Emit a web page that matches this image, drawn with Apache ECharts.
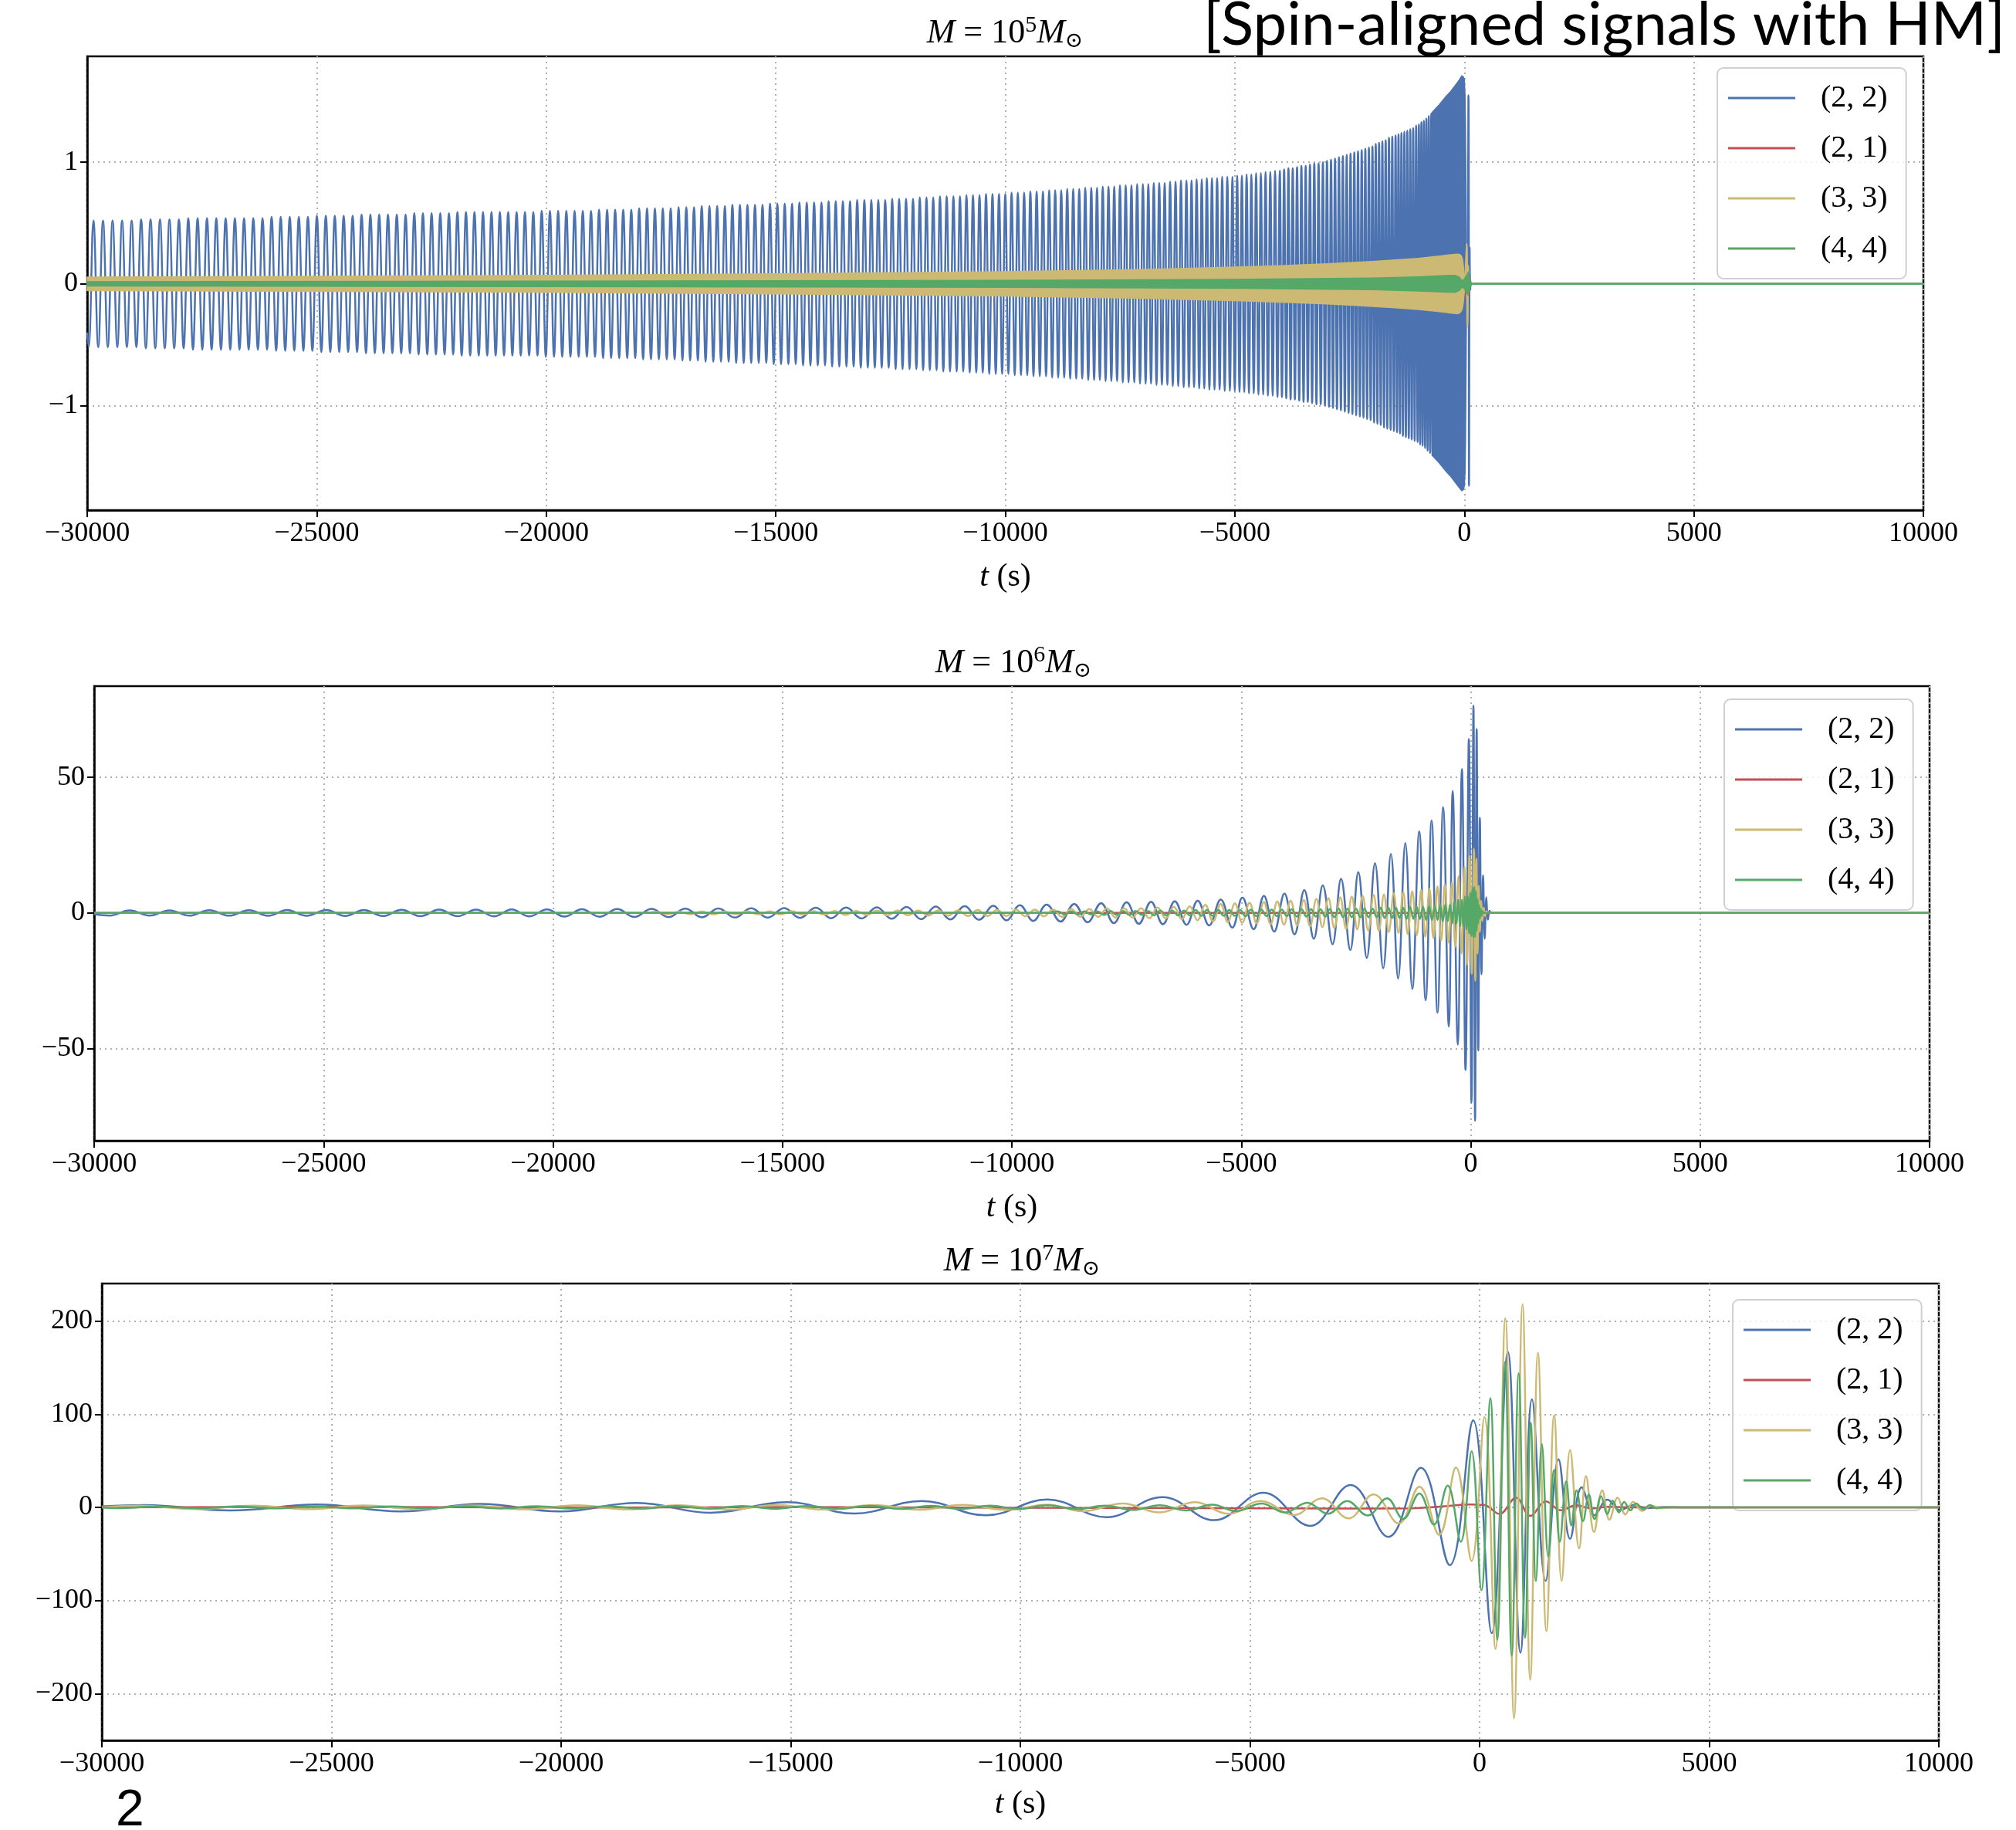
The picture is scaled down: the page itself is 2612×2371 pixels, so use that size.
<!DOCTYPE html>
<html>
<head>
<meta charset="utf-8">
<script src="https://cdn.jsdelivr.net/npm/echarts@6/dist/echarts.min.js"></script>
<style>
  html, body { margin: 0; padding: 0; background: #fff; }
  #chart { width: 2612px; height: 2371px; }
</style>
</head>
<body>
<div id="chart"></div>
<script>
// modes shown in every panel
const modeNames = ['(2, 2)', '(2, 1)', '(3, 3)', '(4, 4)'];
const modeColors = ['#4c72b0', '#c44e52', '#ccb974', '#55a868'];
const xTicks = [-30000, -25000, -20000, -15000, -10000, -5000, 0, 5000, 10000];
const yTicks1 = [-1, 0, 1];
const yTicks2 = [-50, 0, 50];
const yTicks3 = [-200, -100, 0, 100, 200];

// ---- M = 1e5: (2,2) extrema, [t, h]
const p1Blue = [[-30000,-0.40],[-29968,-0.52],[-29864,0.52],[-29760,-0.52],[-29656,0.52],[-29552,-0.52],[-29448,0.52],[-29344,-0.52],[-29240,0.52],[-29136,-0.52],[-29032,0.52],[-28929,-0.52],
[-28826,0.53],[-28723,-0.53],[-28620,0.53],[-28517,-0.53],[-28414,0.53],[-28311,-0.53],[-28208,0.53],[-28105,-0.53],[-28002,0.53],[-27900,-0.53],
[-27798,0.54],[-27696,-0.54],[-27595,0.54],[-27493,-0.54],[-27391,0.54],[-27290,-0.54],[-27188,0.54],[-27086,-0.54],
[-26984,0.54],[-26884,-0.54],[-26783,0.54],[-26683,-0.54],[-26583,0.54],[-26483,-0.54],[-26382,0.54],[-26282,-0.54],[-26181,0.54],[-26082,-0.54],
[-25983,0.55],[-25884,-0.55],[-25785,0.55],[-25687,-0.55],[-25588,0.55],[-25489,-0.55],[-25390,0.55],[-25291,-0.55],[-25192,0.55],[-25095,-0.55],
[-24997,0.56],[-24900,-0.56],[-24802,0.56],[-24705,-0.56],[-24607,0.56],[-24510,-0.56],[-24413,0.56],[-24316,-0.56],[-24218,0.56],[-24121,-0.56],
[-24023,0.57],[-23927,-0.57],[-23831,0.57],[-23735,-0.57],[-23639,0.57],[-23544,-0.57],[-23448,0.57],[-23352,-0.57],[-23256,0.57],[-23160,-0.57],[-23064,0.57],[-22970,-0.57],
[-22875,0.58],[-22781,-0.58],[-22687,0.58],[-22592,-0.58],[-22498,0.58],[-22404,-0.58],[-22309,0.58],[-22215,-0.58],[-22120,0.58],[-22028,-0.58],
[-21935,0.59],[-21842,-0.59],[-21749,0.59],[-21657,-0.59],[-21564,0.59],[-21471,-0.59],[-21378,0.59],[-21286,-0.59],[-21193,0.59],[-21102,-0.59],
[-21011,0.59],[-20920,-0.59],[-20829,0.59],[-20738,-0.59],[-20646,0.59],[-20555,-0.59],[-20464,0.59],[-20373,-0.59],[-20282,0.59],[-20191,-0.59],[-20099,0.6],[-20010,-0.6],
[-19920,0.6],[-19831,-0.6],[-19741,0.6],[-19652,-0.6],[-19562,0.6],[-19473,-0.6],[-19383,0.6],[-19294,-0.6],[-19204,0.6],[-19115,-0.6],[-19025,0.6],[-18938,-0.6],
[-18850,0.61],[-18762,-0.61],[-18674,0.61],[-18587,-0.61],[-18499,0.61],[-18411,-0.61],[-18323,0.61],[-18236,-0.61],[-18148,0.61],[-18062,-0.61],
[-17976,0.62],[-17890,-0.62],[-17804,0.62],[-17719,-0.62],[-17633,0.62],[-17547,-0.62],[-17461,0.62],[-17375,-0.62],[-17289,0.62],[-17203,-0.62],[-17117,0.63],[-17033,-0.63],
[-16949,0.63],[-16865,-0.63],[-16781,0.63],[-16697,-0.63],[-16613,0.64],[-16529,-0.64],[-16445,0.64],[-16361,-0.64],[-16277,0.64],[-16193,-0.64],[-16109,0.64],[-16027,-0.64],
[-15945,0.65],[-15863,-0.65],[-15781,0.65],[-15699,-0.65],[-15617,0.65],[-15535,-0.65],[-15453,0.65],[-15371,-0.65],[-15289,0.65],[-15207,-0.65],[-15125,0.66],[-15045,-0.66],
[-14965,0.66],[-14885,-0.66],[-14805,0.66],[-14725,-0.66],[-14645,0.66],[-14565,-0.66],[-14485,0.67],[-14405,-0.67],[-14325,0.67],[-14245,-0.67],[-14165,0.67],[-14085,-0.67],
[-14005,0.67],[-13927,-0.67],[-13849,0.68],[-13772,-0.68],[-13694,0.68],[-13616,-0.68],[-13538,0.68],[-13460,-0.68],[-13382,0.68],[-13304,-0.68],[-13226,0.69],[-13148,-0.69],[-13070,0.69],[-12995,-0.69],
[-12919,0.69],[-12843,-0.69],[-12767,0.69],[-12692,-0.69],[-12616,0.69],[-12540,-0.69],[-12464,0.7],[-12389,-0.7],[-12313,0.7],[-12238,-0.7],[-12162,0.7],[-12086,-0.7],
[-12010,0.7],[-11937,-0.7],[-11863,0.71],[-11790,-0.71],[-11717,0.71],[-11644,-0.71],[-11570,0.71],[-11497,-0.71],[-11423,0.72],[-11350,-0.72],[-11277,0.72],[-11204,-0.72],[-11130,0.72],[-11059,-0.72],
[-10988,0.72],[-10917,-0.72],[-10846,0.73],[-10775,-0.73],[-10704,0.73],[-10633,-0.73],[-10562,0.73],[-10491,-0.73],[-10420,0.74],[-10350,-0.74],[-10279,0.74],[-10208,-0.74],[-10137,0.74],[-10069,-0.74],
[-10000,0.74],[-9932,-0.74],[-9863,0.75],[-9795,-0.75],[-9727,0.75],[-9659,-0.75],[-9590,0.75],[-9522,-0.75],[-9454,0.76],[-9386,-0.76],[-9317,0.76],[-9249,-0.76],[-9180,0.76],[-9112,-0.76],[-9044,0.77],[-8979,-0.77],
[-8913,0.77],[-8848,-0.77],[-8782,0.77],[-8717,-0.77],[-8651,0.78],[-8586,-0.78],[-8520,0.78],[-8455,-0.78],[-8389,0.78],[-8324,-0.78],[-8258,0.79],[-8193,-0.79],[-8127,0.79],[-8065,-0.79],
[-8002,0.79],[-7940,-0.79],[-7877,0.8],[-7815,-0.8],[-7752,0.8],[-7690,-0.8],[-7627,0.8],[-7565,-0.8],[-7502,0.81],[-7440,-0.81],[-7377,0.81],[-7315,-0.81],[-7252,0.81],[-7190,-0.81],[-7127,0.82],[-7065,-0.82],[-7002,0.82],[-6943,-0.82],
[-6884,0.82],[-6825,-0.82],[-6765,0.83],[-6706,-0.83],[-6647,0.83],[-6588,-0.83],[-6528,0.83],[-6469,-0.83],[-6410,0.84],[-6351,-0.84],[-6291,0.84],[-6232,-0.84],[-6173,0.85],[-6114,-0.85],[-6054,0.85],[-5999,-0.85],
[-5943,0.85],[-5888,-0.85],[-5832,0.86],[-5776,-0.86],[-5720,0.86],[-5665,-0.86],[-5609,0.87],[-5554,-0.87],[-5498,0.87],[-5442,-0.87],[-5386,0.87],[-5331,-0.87],[-5275,0.88],[-5220,-0.88],[-5164,0.88],[-5108,-0.88],[-5052,0.88],[-5001,-0.88],
[-4949,0.89],[-4898,-0.89],[-4846,0.89],[-4795,-0.89],[-4743,0.9],[-4692,-0.9],[-4640,0.9],[-4588,-0.9],[-4536,0.91],[-4485,-0.91],[-4433,0.91],[-4382,-0.91],[-4330,0.92],[-4279,-0.92],[-4227,0.92],[-4175,-0.92],[-4123,0.93],[-4072,-0.93],[-4020,0.93],[-3973,-0.93],
[-3926,0.94],[-3879,-0.94],[-3832,0.95],[-3785,-0.95],[-3738,0.95],[-3691,-0.95],[-3644,0.96],[-3597,-0.96],[-3550,0.97],[-3503,-0.97],[-3456,0.97],[-3410,-0.97],[-3363,0.98],[-3316,-0.98],[-3269,0.99],[-3222,-0.99],[-3175,0.99],[-3128,-0.99],[-3081,1.0],[-3037,-1.0],
[-2992,1.01],[-2948,-1.01],[-2904,1.02],[-2861,-1.02],[-2817,1.03],[-2774,-1.03],[-2731,1.04],[-2689,-1.04],[-2646,1.05],[-2604,-1.05],[-2562,1.06],[-2521,-1.06],[-2479,1.07],[-2438,-1.07],[-2397,1.08],[-2357,-1.08],[-2316,1.09],[-2276,-1.09],[-2236,1.1],[-2197,-1.1],[-2157,1.11],[-2118,-1.11],[-2079,1.12],[-2041,-1.12],
[-2002,1.13],[-1966,-1.14],[-1930,1.15],[-1894,-1.15],[-1858,1.16],[-1822,-1.16],[-1786,1.17],[-1750,-1.18],[-1714,1.18],[-1678,-1.19],[-1642,1.2],[-1606,-1.2],[-1570,1.21],[-1534,-1.21],[-1498,1.22],[-1466,-1.22],
[-1434,1.23],[-1402,-1.23],[-1370,1.24],[-1338,-1.25],[-1306,1.25],[-1274,-1.26],[-1242,1.26],[-1210,-1.27],[-1178,1.27],[-1146,-1.28],[-1114,1.28],[-1082,-1.29],[-1050,1.3],[-1018,-1.3],
[-990,1.31],[-963,-1.32],[-936,1.33],[-909,-1.33],[-882,1.34],[-855,-1.35],[-828,1.36],[-801,-1.37],[-774,1.38],[-747,-1.39],[-720,1.4],[-693,-1.41],[-666,1.42],
[-645,0],[40,0],[90,1.55],[102,-1.66],[115,0.3],[128,-0.05],[140,0],[10000,0]];
// where the oscillation is too dense to resolve, the picture shows a filled envelope: [t, upper, lower]
const p1BlueBand = [[-700,1.41,-1.41],[-550,1.47,-1.47],[-400,1.54,-1.54],[-300,1.58,-1.58],[-200,1.63,-1.63],[-120,1.67,-1.67],[-56,1.71,-1.7],[-20,1.7,-1.69],[0,1.68,-1.66],[15,1.55,-1.55],[25,1.3,-1.3],[35,0.8,-0.8],[45,0.3,-0.3],[55,0,0]];
const p1YellowBand = [[-30000,0.055,-0.055],[-25000,0.062,-0.062],[-20000,0.07,-0.07],[-15000,0.082,-0.082],[-10000,0.1,-0.1],[-7000,0.118,-0.118],[-5000,0.138,-0.138],[-4000,0.15,-0.15],[-3000,0.165,-0.165],[-2500,0.175,-0.175],[-2000,0.185,-0.185],[-1500,0.197,-0.197],[-1000,0.21,-0.21],[-700,0.222,-0.222],[-500,0.23,-0.23],[-300,0.24,-0.24],[-150,0.245,-0.245],[-90,0.24,-0.235],[-60,0.225,-0.22],[-40,0.2,-0.195],[-25,0.16,-0.16],[-10,0.1,-0.1],[5,0.05,-0.05],[20,0.02,-0.02],[30,0,0]];
const p1Yellow = [[20,0],[50,0.33],[68,-0.35],[85,0.15],[100,-0.06],[115,0],[10000,0]];
const p1GreenBand = [[-30000,0.018,-0.018],[-20000,0.022,-0.022],[-10000,0.028,-0.028],[-5000,0.036,-0.036],[-2000,0.048,-0.048],[-1000,0.058,-0.058],[-400,0.068,-0.068],[-200,0.07,-0.07],[-110,0.055,-0.055],[-60,0.03,-0.03],[-20,0.03,-0.03],[30,0.06,-0.06],[84,0.095,-0.09],[120,0.04,-0.04],[160,0,0]];
const p1Green = [[150,0],[10000,0]];
const p1Red = [[-30000,0],[-50,0],[20,0.06],[45,-0.12],[70,0.12],[95,-0.1],[120,0.05],[145,0],[10000,0]];

// ---- M = 1e6
const p2Blue = [[-30000,-0.5],[-29660,-0.95],[-29227,0.95],[-28793,-0.97],[-28359,0.97],[-27925,-1.0],[-27492,1.0],[-27059,-1.0],[-26626,1.0],[-26211,-1.05],[-25797,1.05],[-25368,-1.05],[-24940,1.1],[-24530,-1.1],[-24121,1.1],[-23711,-1.15],[-23301,1.15],[-22891,-1.2],[-22482,1.2],[-22078,-1.2],[-21674,1.25],[-21288,-1.25],[-20902,1.3],[-20517,-1.3],[-20132,1.3],[-19751,-1.35],[-19371,1.4],[-18986,-1.4],[-18601,1.45],[-18225,-1.5],[-17850,1.5],[-17484,-1.55],[-17118,1.6],[-16756,-1.6],[-16394,1.65],[-16037,-1.7],[-15681,1.7],[-15321,-1.75],[-14962,1.8],[-14617,-1.85],[-14272,1.9],[-13941,-1.95],[-13611,2.0],[-13277,-2.05],[-12943,2.1],[-12620,-2.15],[-12297,2.2],[-11978,-2.3],[-11659,2.35],[-11343,-2.4],[-11028,2.5],[-10716,-2.55],[-10405,2.65],[-10116,-2.75],[-9827,2.85],[-9534,-2.95],[-9241,3.05],[-8941,-3.2],[-8641,3.3],[-8348,-3.45],[-8055,3.6],[-7777,-3.75],[-7500,3.9],[-7233,-4.0],[-6967,4.1],[-6708,-4.2],[-6449,4.3],[-6194,-4.4],[-5950,4.5],[-5700,-4.6],[-5448,4.9],[-5196,-5.4],[-4975,5.6],[-4731,-6.0],[-4507,6.3],[-4283,-6.9],[-4059,7.1],[-3840,-7.9],[-3627,8.4],[-3420,-9.5],[-3224,10.1],[-3011,-11.5],[-2826,12.5],[-2624,-13.7],[-2450,15.0],[-2265,-16.6],[-2086,18.3],[-1907,-20.4],[-1739,21.7],[-1582,-24.2],[-1425,25.8],[-1273,-28.0],[-1122,30.0],[-982,-32.2],[-853,34.1],[-724,-36.8],[-601,39.0],[-478,-41.9],[-393,45.0],[-282,-48.6],[-192,53.1],[-113,-57.9],[-40,64.1],[16,-69.9],[60,76.4],[95,-76.6],[130,67.8],[165,-50.7],[200,35.1],[235,-22.6],[270,13.9],[305,-9.5],[340,5.8],[375,-2.5],[410,0.8],[450,0],[10000,0]];
const p2Red = [[-30000,0],[-200,0],[0,0.8],[40,-1],[80,0.8],[120,-0.4],[160,0],[10000,0]];
const p2Yellow = [[-30000,0],[-17950,0],[-17769,0.45],[-17513,-0.45],[-17259,0.45],[-17006,-0.45],[-16755,0.5],[-16505,-0.5],[-16257,0.5],[-16010,-0.5],[-15765,0.58],[-15521,-0.58],[-15279,0.58],[-15038,-0.58],[-14799,0.66],[-14561,-0.66],[-14325,0.66],[-14090,-0.66],[-13857,0.75],[-13625,-0.75],[-13395,0.75],[-13166,-0.75],[-12939,0.85],[-12713,-0.85],[-12488,0.85],[-12264,-0.85],[-12042,0.85],[-11822,-0.95],[-11603,0.95],[-11386,-0.95],[-11171,0.95],[-10957,-1.1],[-10745,1.1],[-10534,-1.1],[-10324,1.1],[-10116,-1.1],[-9910,1.25],[-9706,-1.25],[-9503,1.25],[-9302,-1.25],[-9102,1.25],[-8903,-1.45],[-8705,1.45],[-8508,-1.45],[-8313,1.45],[-8120,-1.45],[-7929,1.7],[-7740,-1.7],[-7553,1.7],[-7368,-1.7],[-7185,1.7],[-7004,-2.0],[-6825,2.0],[-6647,-2.0],[-6471,2.3],[-6297,-2.3],[-6125,2.4],[-5955,-2.7],[-5785,3.0],[-5616,-3.1],[-5448,3.3],[-5294,-3.4],[-5140,3.5],[-4980,-3.6],[-4821,3.7],[-4664,-3.8],[-4507,4.0],[-4361,-4.1],[-4216,4.2],[-4070,-4.3],[-3924,4.5],[-3781,-4.6],[-3639,4.8],[-3501,-4.9],[-3364,5.1],[-3232,-5.2],[-3101,5.4],[-2972,-5.5],[-2843,5.7],[-2717,-5.8],[-2591,6.0],[-2473,-6.1],[-2356,6.3],[-2235,-6.4],[-2115,6.6],[-2003,-6.7],[-1891,6.8],[-1784,-7.0],[-1678,7.2],[-1574,-7.4],[-1471,7.6],[-1373,-7.8],[-1275,8.0],[-1177,-8.2],[-1079,8.5],[-989,-8.8],[-899,9.0],[-812,-9.4],[-725,9.8],[-644,-10.2],[-563,10.6],[-484,-11],[-406,11.5],[-336,-12.5],[-266,13.5],[-201,-15],[-137,17],[-81,-19],[-25,21],[22,-22.5],[70,23.7],[100,-25],[125,20],[150,-15],[175,10],[200,-7],[228,4.5],[256,-3],[285,2],[315,-1.2],[345,0.6],[380,0],[10000,0]];
const p2Green = [[-30000,0],[-9150,0],[-9000,0.6],[-8853,-0.6],[-8707,0.6],[-8562,-0.6],[-8418,0.6],[-8275,-0.6],[-8133,0.6],[-7992,-0.75],[-7852,0.75],[-7713,-0.75],[-7575,0.75],[-7438,-0.75],[-7302,0.75],[-7167,-0.75],[-7033,0.75],[-6900,-0.9],[-6768,0.9],[-6637,-0.9],[-6507,0.9],[-6378,-0.9],[-6250,0.9],[-6123,-0.9],[-5997,1.05],[-5872,-1.05],[-5748,1.05],[-5625,-1.05],[-5503,1.05],[-5382,-1.05],[-5262,1.05],[-5143,-1.05],[-5025,1.05],[-4908,-1.2],[-4792,1.2],[-4677,-1.2],[-4563,1.2],[-4450,-1.2],[-4338,1.2],[-4227,-1.2],[-4117,1.2],[-4008,-1.2],[-3900,1.35],[-3793,-1.35],[-3687,1.35],[-3582,-1.35],[-3478,1.35],[-3375,-1.35],[-3273,1.35],[-3172,-1.35],[-3072,1.35],[-2974,-1.6],[-2877,1.6],[-2781,-1.6],[-2686,1.6],[-2592,-1.6],[-2499,1.6],[-2407,-1.6],[-2316,1.6],[-2226,-1.6],[-2137,1.6],[-2049,-1.6],[-1962,1.9],[-1877,-1.9],[-1793,1.9],[-1711,-1.9],[-1630,1.9],[-1551,-1.9],[-1473,1.9],[-1397,-2.2],[-1322,2.2],[-1249,-2.2],[-1177,2.2],[-1107,-2.2],[-1039,2.2],[-972,-2.6],[-907,2.6],[-844,-2.6],[-782,2.6],[-722,-2.6],[-664,3.1],[-608,-3.1],[-554,3.1],[-502,-3.1],[-452,3.1],[-404,-3.8],[-358,3.8],[-314,-3.8],[-272,4.8],[-232,-4.8],[-194,4.8],[-158,-4.8],[-124,6],[-92,-6],[-62,6],[-34,-7.5],[-8,7.5],[16,-8.5],[38,9.2],[58,-9.0],[76,9.6],[94,-8.9],[112,8.0],[130,-6.5],[148,5.0],[166,-3.8],[184,2.8],[202,-2.0],[220,1.4],[240,-1.0],[260,0.6],[290,0],[10000,0]];

// ---- M = 1e7
const p3Blue = [[-30000,1.0],[-29080,2.5],[-27200,-3.3],[-25320,3.0],[-23500,-4.4],[-21760,3.6],[-20020,-4.4],[-18350,4.7],[-16750,-5.8],[-15075,5.5],[-13610,-6.6],[-12150,6.9],[-10750,-8.6],[-9405,8.4],[-8123,-10.5],[-6902,11.0],[-5777,-13.8],[-4704,15.7],[-3689,-19.9],[-2808,24.0],[-1986,-31.7],[-1279,42.5],[-650,-62],[-140,93.5],[263,-135],[616,167],[890,-156],[1142,116],[1439,-79],[1719,51.5],[1971,-33.8],[2223,21.5],[2503,-8.5],[2783,8.2],[3063,-3.2],[3343,2.5],[3650,-0.8],[4000,0.2],[4400,0],[10000,0]];
const p3Red = [[-30000,0],[-25000,0.5],[-20000,-0.3],[-15000,0.4],[-10000,-0.5],[-6000,-0.8],[-3000,-1.2],[-1500,-1.0],[-800,1.0],[-200,3],[100,2.5],[431,-7],[795,10.4],[1103,-9.2],[1439,6.3],[1775,-3.2],[2100,2.2],[2450,-1.2],[2800,0.6],[3200,0],[10000,0]];
const p3Yellow = [[-30000,0],[-29200,1.8],[-27950,-1.8],[-26700,1.9],[-25500,-1.9],[-24300,2.0],[-23100,-2.0],[-21950,2.1],[-20800,-2.1],[-19650,2.2],[-18550,-2.2],[-17450,2.3],[-16350,-2.3],[-15300,2.4],[-14250,-2.4],[-13200,2.5],[-12200,-2.5],[-11250,2.6],[-10300,-2.7],[-9409,2.8],[-8637,-4.1],[-7770,4.1],[-6967,-5.5],[-6208,5.5],[-5456,-6.9],[-4768,6.9],[-4042,-8.3],[-3432,9.7],[-2853,-11.9],[-2307,13.8],[-1761,-17.4],[-1311,22.1],[-880,-29.5],[-515,42.8],[-174,-57.5],[106,97],[347,-152],[560,203],[750,-226.5],[935,218],[1103,-185],[1271,166],[1456,-133],[1624,99],[1786,-79],[1971,61.6],[2167,-44.2],[2318,33.5],[2492,-26.5],[2671,18.3],[2827,-13.3],[3007,10.4],[3175,-7.6],[3343,5.7],[3539,-3.8],[3735,1.9],[3950,-0.8],[4200,0],[10000,0]];
const p3Green = [[-30000,0],[-29660,-0.9],[-28780,0.9],[-27910,-1.0],[-27050,1.0],[-26200,-1.0],[-25360,1.0],[-24530,-1.1],[-23710,1.1],[-22900,-1.1],[-22100,1.2],[-21310,-1.2],[-20530,1.2],[-19760,-1.3],[-19000,1.3],[-18250,-1.3],[-17510,1.4],[-16780,-1.4],[-16060,1.4],[-15350,-1.5],[-14650,1.5],[-13960,-1.5],[-13280,1.6],[-12610,-1.6],[-11950,1.7],[-11300,-1.7],[-10660,1.8],[-10030,-1.8],[-9409,2.2],[-8766,-1.9],[-8155,1.9],[-7545,-2.8],[-6967,2.2],[-6388,-3.3],[-5822,2.8],[-5295,-4.1],[-4749,4.1],[-4235,-5.5],[-3753,5.0],[-3303,-6.9],[-2885,6.9],[-2435,-8.8],[-2018,9.7],[-1664,-12.4],[-1311,14.9],[-993,-18.5],[-695,23.3],[-410,-37],[-174,60.3],[39,-89],[235,117],[386,-142],[554,156],[700,-159],[851,144],[991,-140],[1114,91],[1226,-79],[1355,68],[1495,-53],[1618,40],[1747,-37],[1887,28],[1999,-19.6],[2111,18.3],[2251,-14.8],[2380,13.6],[2503,-12.6],[2643,12],[2783,-7],[2895,7.3],[3035,-5.4],[3147,5.7],[3287,-3.2],[3410,4.1],[3567,-2.2],[3707,2.5],[3850,-1],[4000,0],[10000,0]];

const SERIF = "'Liberation Serif', 'DejaVu Serif', serif";
const grids = [
  { left: 113, top: 73, width: 2379, height: 588 },
  { left: 122, top: 889, width: 2378, height: 589 },
  { left: 132, top: 1663, width: 2380, height: 592 }
];
const yRanges = [[-1.86, 1.87], [-84, 83.6], [-250.3, 240.3]];
const yTickSets = [yTicks1, yTicks2, yTicks3];
const legendBoxes = [[2225, 88], [2234, 906], [2245, 1684]];
const titleSpots = [[1302, 43, '5'], [1313, 859, '6'], [1324, 1634, '7']];
const nameGaps = [66, 66, 62];

const chart = echarts.init(document.getElementById('chart'), null, { renderer: 'canvas' });

function minus(v) {
  return v < 0 ? '\u2212' + Math.abs(v) : String(v);
}

const dotted = { color: '#b0b0b0', width: 2, type: [2, 5] };

function lineSeries(name, color, data, i, z) {
  return {
    type: 'line', name: name, xAxisIndex: i, yAxisIndex: i, data: data,
    color: color, symbol: 'none', showSymbol: false, smooth: 0.4,
    lineStyle: { color: color, width: 2.5 }, silent: true, animation: false, z: z
  };
}

// filled envelope, each corner placed through the axes' own coord()
function bandSeries(color, env, i, z) {
  return {
    type: 'custom', xAxisIndex: i, yAxisIndex: i, silent: true, animation: false, z: z,
    data: [[env[0][0], env[0][1]]],
    renderItem: function (params, api) {
      const up = env.map(p => api.coord([p[0], p[1]]));
      const lo = env.slice().reverse().map(p => api.coord([p[0], p[2]]));
      return {
        type: 'polygon',
        shape: { points: up.concat(lo) },
        style: { fill: color, stroke: color, lineWidth: 1.5 }
      };
    }
  };
}

const series = [
  bandSeries(modeColors[0], p1BlueBand, 0, 2),
  lineSeries(modeNames[0], modeColors[0], p1Blue, 0, 3),
  lineSeries(modeNames[1], modeColors[1], p1Red, 0, 4),
  bandSeries(modeColors[2], p1YellowBand, 0, 5),
  lineSeries(modeNames[2], modeColors[2], p1Yellow, 0, 6),
  bandSeries(modeColors[3], p1GreenBand, 0, 7),
  lineSeries(modeNames[3], modeColors[3], p1Green, 0, 8),

  lineSeries(modeNames[0], modeColors[0], p2Blue, 1, 3),
  lineSeries(modeNames[1], modeColors[1], p2Red, 1, 4),
  lineSeries(modeNames[2], modeColors[2], p2Yellow, 1, 5),
  lineSeries(modeNames[3], modeColors[3], p2Green, 1, 6),

  lineSeries(modeNames[0], modeColors[0], p3Blue, 2, 3),
  lineSeries(modeNames[1], modeColors[1], p3Red, 2, 4),
  lineSeries(modeNames[2], modeColors[2], p3Yellow, 2, 5),
  lineSeries(modeNames[3], modeColors[3], p3Green, 2, 6)
];

const option = {
  backgroundColor: '#ffffff',
  animation: false,
  grid: grids.map(g => Object.assign({ show: true, borderColor: '#000', borderWidth: 2.5, backgroundColor: 'transparent' }, g)),
  xAxis: grids.map((g, i) => ({
    type: 'value', gridIndex: i, min: xTicks[0], max: xTicks[xTicks.length - 1], interval: 5000,
    axisLine: { show: true, onZero: false, lineStyle: { color: '#000', width: 2.5 } },
    axisTick: { show: true, length: 9, lineStyle: { color: '#000', width: 2 } },
    axisLabel: { color: '#000', fontSize: 36, fontFamily: SERIF, margin: 13, formatter: minus, showMinLabel: true, showMaxLabel: true },
    splitLine: { show: true, lineStyle: dotted },
    name: '{i|t} (s)', nameLocation: 'middle', nameGap: nameGaps[i],
    nameTextStyle: { color: '#000', fontSize: 42, fontFamily: SERIF, rich: { i: { fontStyle: 'italic', fontSize: 42, fontFamily: SERIF, color: '#000' } } }
  })),
  yAxis: grids.map((g, i) => ({
    type: 'value', gridIndex: i, min: yRanges[i][0], max: yRanges[i][1],
    axisLine: { show: true, onZero: false, lineStyle: { color: '#000', width: 2.5 } },
    axisTick: { show: true, length: 9, lineStyle: { color: '#000', width: 2 }, customValues: yTickSets[i] },
    axisLabel: { color: '#000', fontSize: 36, fontFamily: SERIF, margin: 12, formatter: minus, customValues: yTickSets[i] },
    splitLine: { show: true, lineStyle: dotted }
  })),
  legend: legendBoxes.map(b => ({
    data: modeNames, orient: 'vertical', left: b[0], top: b[1],
    icon: 'rect', itemWidth: 87, itemHeight: 3, itemGap: 25,
    padding: [19, 24, 19, 14], borderColor: '#d0d0d0', borderWidth: 2, borderRadius: 8,
    backgroundColor: 'rgba(255,255,255,0.8)', selectedMode: false,
    formatter: name => '{g| }' + name,
    textStyle: { color: '#000', fontSize: 40, fontFamily: SERIF, lineHeight: 40, rich: { g: { width: 28 } } }
  })),
  graphic: titleSpots.map(t => ({
    type: 'text', x: t[0], y: t[1], silent: true,
    style: {
      text: '{i|M}{r| = 10}{s|' + t[2] + '}{i|M}{b|\u2299}',
      align: 'center', verticalAlign: 'middle', textAlign: 'center', textVerticalAlign: 'middle',
      fill: '#000', fontSize: 44, fontFamily: SERIF,
      rich: {
        i: { fontStyle: 'italic', fontSize: 44, fontFamily: SERIF, lineHeight: 50, verticalAlign: 'middle' },
        r: { fontSize: 44, fontFamily: SERIF, lineHeight: 50, verticalAlign: 'middle' },
        s: { fontSize: 30, fontFamily: SERIF, lineHeight: 38, verticalAlign: 'top' },
        b: { fontSize: 28, fontFamily: "'DejaVu Serif', serif", lineHeight: 30, verticalAlign: 'bottom' }
      }
    }
  })).concat([
    {
      type: 'text', x: 2598, y: 33, silent: true,
      style: { text: '[Spin-aligned signals with HM]', align: 'right', verticalAlign: 'middle', textAlign: 'right', textVerticalAlign: 'middle', fill: '#000', fontSize: 78, fontFamily: 'Lato' }
    },
    {
      type: 'text', x: 150, y: 2347, silent: true,
      style: { text: '2', align: 'left', verticalAlign: 'middle', textAlign: 'left', textVerticalAlign: 'middle', fill: '#000', fontSize: 66, fontFamily: "'Liberation Sans', sans-serif" }
    }
  ]),
  series: series
};

chart.setOption(option);
</script>
</body>
</html>
